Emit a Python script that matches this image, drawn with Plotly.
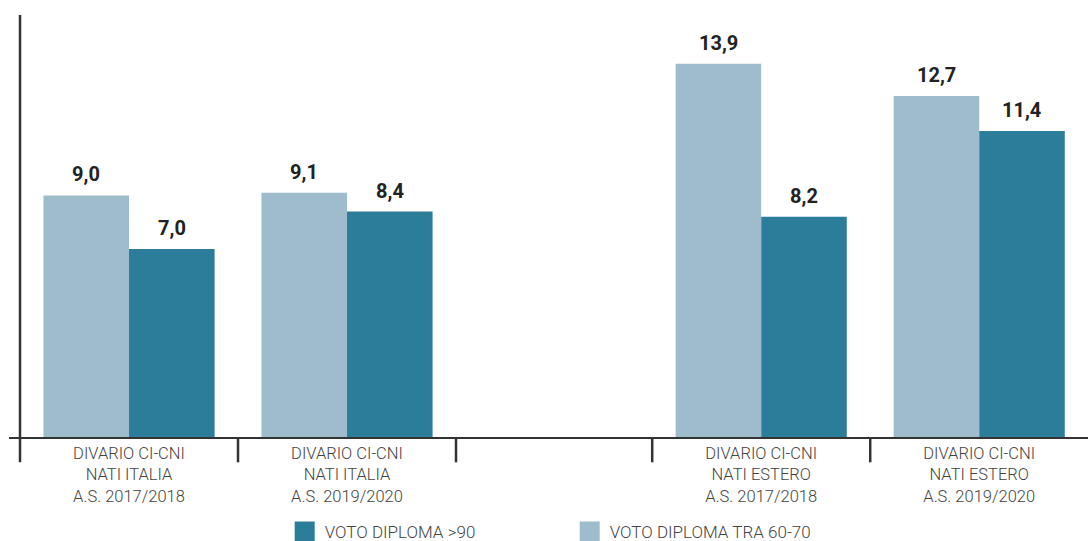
import plotly.graph_objects as go

categories = [
    "DIVARIO CI-CNI<br>NATI ITALIA<br>A.S. 2017/2018",
    "DIVARIO CI-CNI<br>NATI ITALIA<br>A.S. 2019/2020",
    "DIVARIO CI-CNI<br>NATI ESTERO<br>A.S. 2017/2018",
    "DIVARIO CI-CNI<br>NATI ESTERO<br>A.S. 2019/2020",
]
voto_60_70 = [9.0, 9.1, 13.9, 12.7]
voto_90 = [7.0, 8.4, 8.2, 11.4]
name_60_70 = "VOTO DIPLOMA TRA 60-70"
name_90 = "VOTO DIPLOMA >90"

# layout positions (category centres, with a narrower empty slot between groups)
centers = [0.5, 1.5, 3.4, 4.4]
boundaries = [0, 1, 2, 2.9, 3.9]

LIGHT = "#9fbccc"
DARK = "#2c7d9a"
BAR_PX = 85.5

fig = go.Figure()
fig.add_trace(go.Bar(
    x=centers, y=voto_60_70, name=name_60_70,
    marker=dict(color=LIGHT, line=dict(width=0)), showlegend=False,
))
fig.add_trace(go.Bar(
    x=centers, y=voto_90, name=name_90,
    marker=dict(color=DARK, line=dict(width=0)), showlegend=False,
))
# legend entries (square swatches)
for nm, col, rk in [(name_90, DARK, 1), (name_60_70, LIGHT, 2)]:
    fig.add_trace(go.Scatter(
        x=[None], y=[None], mode="markers", name=nm, legendrank=rk,
        marker=dict(symbol="square", size=16, color=col, line=dict(color=col, width=4)),
    ))

annotations = []
for vals, sh in [(voto_60_70, -BAR_PX / 2), (voto_90, BAR_PX / 2)]:
    for xc, v in zip(centers, vals):
        annotations.append(dict(
            x=xc, y=v, xref="x", yref="y", xshift=sh, yshift=7,
            text="<b>" + f"{v:.1f}".replace(".", ",") + "</b>",
            showarrow=False, yanchor="bottom",
            font=dict(family="Roboto", size=20, color="#222222"),
        ))

shapes = []
# y axis line (extends below x axis)
shapes.append(dict(type="line", xref="x", yref="paper", x0=0, x1=0, y0=-0.06, y1=1,
                   line=dict(color="#333333", width=2.5)))
for b in boundaries[1:]:
    shapes.append(dict(type="line", xref="x", yref="paper", x0=b, x1=b, y0=-0.06, y1=0,
                       line=dict(color="#333333", width=2.5)))

fig.update_layout(
    width=1088, height=541,
    margin=dict(l=9, r=0, t=15, b=104, autoexpand=False),
    plot_bgcolor="white", paper_bgcolor="white",
    barmode="group", bargap=0.215, bargroupgap=0,
    font=dict(family="Roboto", color="#444444"),
    xaxis=dict(
        range=[-0.0505, 4.899],
        tickvals=centers, ticktext=categories,
        ticks="", showgrid=False, zeroline=False,
        showline=True, linecolor="#333333", linewidth=2,
        tickfont=dict(family="Roboto", size=16.5, color="#444444", weight=300),
    ),
    yaxis=dict(
        range=[0, 15.72], showticklabels=False, showgrid=False,
        zeroline=False, showline=False, ticks="",
    ),
    shapes=shapes,
    annotations=annotations,
    showlegend=True,
    legend=dict(
        orientation="h", x=0.2555, xanchor="left", y=-0.2678, yanchor="bottom",
        entrywidth=240, entrywidthmode="pixels", itemsizing="trace",
        font=dict(family="Roboto", size=17, color="#444444", weight=300),
        traceorder="normal",
    ),
)

fig.write_html("out.html")
